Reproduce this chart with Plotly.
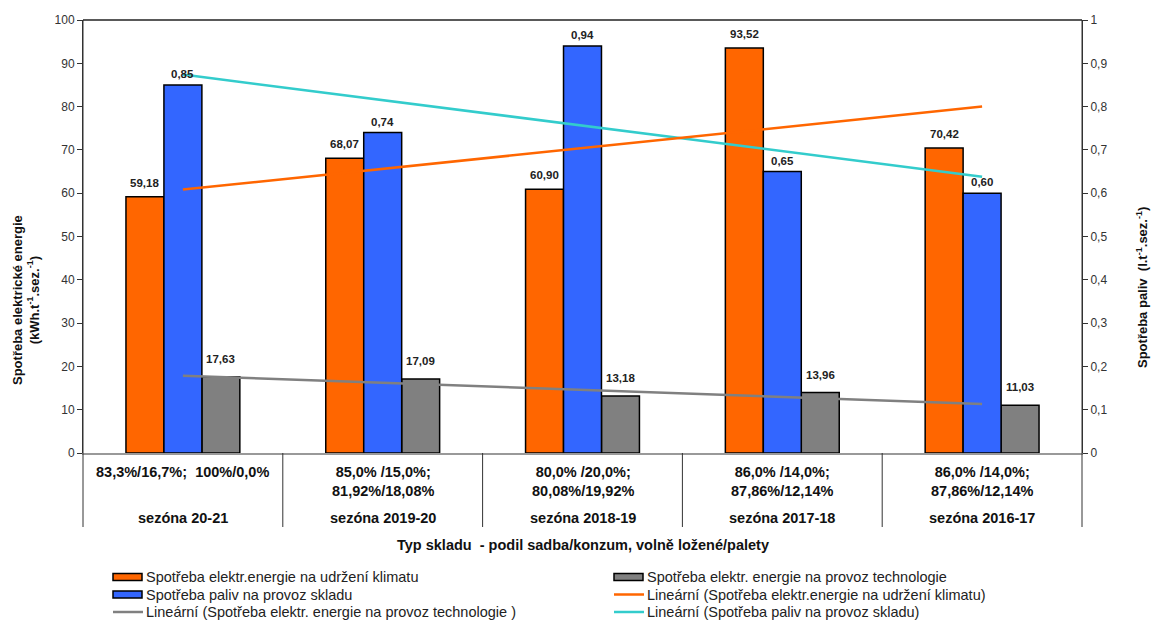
import numpy as np
import plotly.graph_objects as go

seasons = ["sezóna 20-21", "sezóna 2019-20", "sezóna 2018-19", "sezóna 2017-18", "sezóna 2016-17"]
shares = ["83,3%/16,7%;  100%/0,0%",
          "85,0% /15,0%;<br>81,92%/18,08%",
          "80,0% /20,0%;<br>80,08%/19,92%",
          "86,0% /14,0%;<br>87,86%/12,14%",
          "86,0% /14,0%;<br>87,86%/12,14%"]
climate = [59.18, 68.07, 60.90, 93.52, 70.42]
fuel = [0.85, 0.74, 0.94, 0.65, 0.60]
tech = [17.63, 17.09, 13.18, 13.96, 11.03]
left_ticks = [0, 10, 20, 30, 40, 50, 60, 70, 80, 90, 100]
right_tickvals = [0, 0.1, 0.2, 0.3, 0.4, 0.5, 0.6, 0.7, 0.8, 0.9, 1]
right_ticktext = ["0", "0,1", "0,2", "0,3", "0,4", "0,5", "0,6", "0,7", "0,8", "0,9", "1"]

names = ["Spotřeba elektr.energie na udržení klimatu",
         "Spotřeba elektr. energie na provoz technologie",
         "Spotřeba paliv na provoz skladu",
         "Lineární (Spotřeba elektr.energie na udržení klimatu)",
         "Lineární (Spotřeba elektr. energie na provoz technologie )",
         "Lineární (Spotřeba paliv na provoz skladu)"]

FONT = "Liberation Sans, Arial, sans-serif"
ORANGE = "#FF6600"
BLUE = "#3366FF"
GRAY = "#808080"
CYAN = "#33CCCC"

# plot area geometry (pixels) used for placing decorations in paper coords
L, R, T, B = 83, 1082, 20, 453


def pxx(px):
    return (px - L) / (R - L)


def pxy(py):
    return (B - py) / (B - T)


x = np.arange(len(seasons))
W = 0.19


def fmt(v):
    return f"{v:.2f}".replace(".", ",")


def trend(vals):
    k, q = np.polyfit(x, vals, 1)
    return k * x + q


fig = go.Figure()
bar_line = dict(color="black", width=1.5)
fig.add_trace(go.Bar(x=x, y=climate, width=W, offset=-1.5 * W, name=names[0],
                     marker=dict(color=ORANGE, line=bar_line), yaxis="y"))
fig.add_trace(go.Bar(x=x, y=tech, width=W, offset=0.5 * W, name=names[1],
                     marker=dict(color=GRAY, line=bar_line), yaxis="y"))
fig.add_trace(go.Bar(x=x, y=fuel, width=W, offset=-0.5 * W, name=names[2],
                     marker=dict(color=BLUE, line=bar_line), yaxis="y2"))
fig.add_trace(go.Scatter(x=x, y=trend(climate), mode="lines", name=names[3],
                         line=dict(color=ORANGE, width=2.5), yaxis="y3"))
fig.add_trace(go.Scatter(x=x, y=trend(tech), mode="lines", name=names[4],
                         line=dict(color=GRAY, width=2.5), yaxis="y3"))
fig.add_trace(go.Scatter(x=x, y=trend(fuel), mode="lines", name=names[5],
                         line=dict(color=CYAN, width=2.5), yaxis="y2"))

ann = []
shapes = []
lab_font = dict(family=FONT, size=11.5, color="#222")
cat_font = dict(family=FONT, size=14.5, color="#111")
for i in range(len(seasons)):
    ann.append(dict(x=x[i] - W, y=climate[i], xref="x", yref="y", text="<b>" + fmt(climate[i]) + "</b>",
                    showarrow=False, yanchor="bottom", yshift=6, font=lab_font))
    ann.append(dict(x=x[i], y=fuel[i], xref="x", yref="y2", text="<b>" + fmt(fuel[i]) + "</b>",
                    showarrow=False, yanchor="bottom", yshift=3, font=lab_font))
    ann.append(dict(x=x[i] + W, y=tech[i], xref="x", yref="y", text="<b>" + fmt(tech[i]) + "</b>",
                    showarrow=False, yanchor="bottom", yshift=10, font=lab_font))
    ann.append(dict(x=x[i], y=pxy(462), xref="x", yref="paper", text="<b>" + shares[i] + "</b>",
                    showarrow=False, yanchor="top", font=cat_font))
    ann.append(dict(x=x[i], y=pxy(518), xref="x", yref="paper", text="<b>" + seasons[i] + "</b>",
                    showarrow=False, yanchor="middle", font=cat_font))

ann.append(dict(x=0.5, y=pxy(545), xref="paper", yref="paper",
                text="<b>Typ skladu  - podil sadba/konzum, volně ložené/palety</b>",
                showarrow=False, yanchor="middle", font=cat_font))
ann.append(dict(x=pxx(26), y=pxy(300), xref="paper", yref="paper", textangle=-90,
                text="<b>Spotřeba elektrické energie<br>(kWh.t<sup>-1</sup>.sez.<sup>-1</sup>)</b>",
                showarrow=False, xanchor="center", yanchor="middle",
                font=dict(family=FONT, size=13, color="#111")))
ann.append(dict(x=pxx(1142), y=pxy(288), xref="paper", yref="paper", textangle=-90,
                text="<b>Spotřeba paliv  (l.t<sup>-1</sup>.sez.<sup>-1</sup>)</b>",
                showarrow=False, xanchor="center", yanchor="middle",
                font=dict(family=FONT, size=13, color="#111")))

# manual legend (two columns, Excel style)
leg_items = [  # (name index, kind, colour)
    (0, "bar", ORANGE), (2, "bar", BLUE), (4, "line", GRAY),
    (1, "bar", GRAY), (3, "line", ORANGE), (5, "line", CYAN),
]
col_x = [113, 614]
row_y = [577, 594.5, 612]
for k, (ni, kind, col) in enumerate(leg_items):
    cx = col_x[k // 3]
    cy = row_y[k % 3]
    if kind == "bar":
        shapes.append(dict(type="rect", xref="paper", yref="paper",
                           x0=pxx(cx), x1=pxx(cx + 29), y0=pxy(cy - 3.5), y1=pxy(cy + 3.5),
                           fillcolor=col, line=dict(color="black", width=1.5)))
    else:
        shapes.append(dict(type="line", xref="paper", yref="paper",
                           x0=pxx(cx), x1=pxx(cx + 30), y0=pxy(cy), y1=pxy(cy),
                           line=dict(color=col, width=2.5)))
    ann.append(dict(x=pxx(cx + 31), y=pxy(cy), xref="paper", yref="paper", text=names[ni],
                    showarrow=False, xanchor="left", yanchor="middle",
                    font=dict(family=FONT, size=14.5, color="#222")))

sep_bottom = pxy(527)
for b in [0.5, 1.5, 2.5, 3.5]:
    shapes.append(dict(type="line", xref="x", yref="paper", x0=b, x1=b, y0=0, y1=sep_bottom,
                       line=dict(color="#333", width=1)))
for px in [0, 1]:
    shapes.append(dict(type="line", xref="paper", yref="paper", x0=px, x1=px, y0=1, y1=sep_bottom,
                       line=dict(color="#333", width=1)))
shapes.append(dict(type="line", xref="paper", yref="paper", x0=0, x1=1, y0=1, y1=1,
                   line=dict(color="#222", width=1.5)))

fig.update_layout(
    width=1151, height=622, autosize=False,
    margin=dict(l=L, r=1151 - R, t=T, b=622 - B, autoexpand=False),
    paper_bgcolor="white", plot_bgcolor="white",
    barmode="overlay",
    showlegend=False,
    font=dict(family=FONT, size=12, color="#333"),
    xaxis=dict(range=[-0.5, 4.5], showticklabels=False, showgrid=False, zeroline=False,
               showline=True, linecolor="#999", linewidth=1.5, ticks=""),
    yaxis=dict(range=[0, 100], tickvals=left_ticks, ticks="outside", ticklen=5, tickcolor="#333",
               showgrid=False, zeroline=False, showline=True, linecolor="#333",
               tickfont=dict(family=FONT, size=12, color="#333")),
    yaxis2=dict(range=[0, 1], overlaying="y", side="right", tickvals=right_tickvals,
                ticktext=right_ticktext, ticks="outside", ticklen=5, tickcolor="#333",
                showgrid=False, zeroline=False, showline=True, linecolor="#333",
                tickfont=dict(family=FONT, size=12, color="#333")),
    yaxis3=dict(range=[0, 100], overlaying="y", visible=False),
    annotations=ann,
    shapes=shapes,
)

fig.write_html("out.html")
